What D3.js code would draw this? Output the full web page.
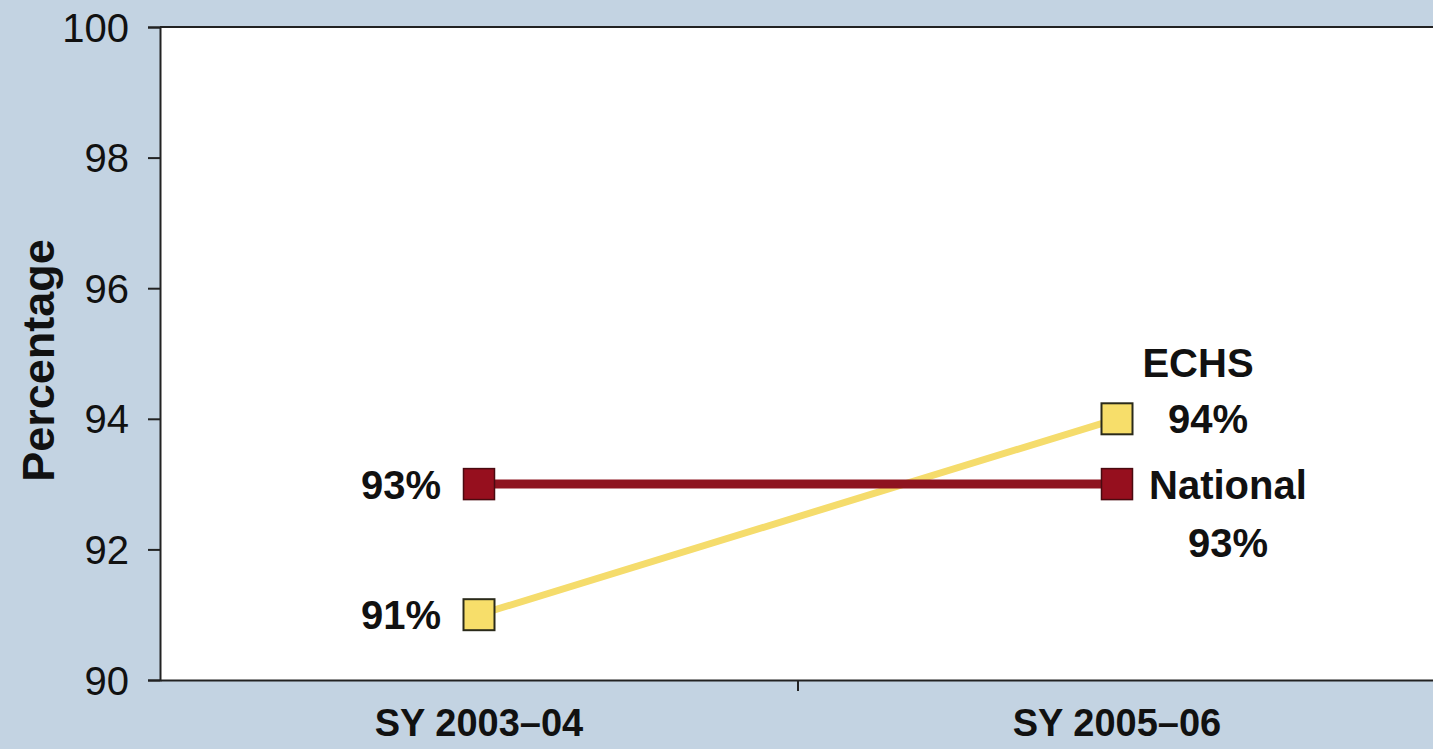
<!DOCTYPE html>
<html>
<head>
<meta charset="utf-8">
<script src="https://cdn.jsdelivr.net/npm/d3@7"></script>
<style>
  html, body { margin: 0; padding: 0; background: #c3d3e2; overflow: hidden; }
  svg { display: block; }
  text { font-family: "Liberation Sans", Arial, sans-serif; fill: #111; }
</style>
</head>
<body>
<svg id="chart" width="1433" height="749"></svg>
<script>
// Attendance rate by school year
const years = ["SY 2003\u201304", "SY 2005\u201306"];
const echsValues = [91, 94];
const nationalValues = [93, 93];
const yTicks = [90, 92, 94, 96, 98, 100];

const width = 1433, height = 749;
const margin = { top: 27, right: -3, bottom: 69, left: 160 };

const svg = d3.select("#chart");

const x = d3.scaleBand()
  .domain(years)
  .range([margin.left, width - margin.right])
  .paddingInner(0).paddingOuter(0);

const y = d3.scaleLinear()
  .domain([90, 100])
  .range([height - margin.bottom, margin.top]);

// plot area
svg.append("rect")
  .attr("x", margin.left)
  .attr("y", margin.top)
  .attr("width", width - margin.right - margin.left)
  .attr("height", y(90) - y(100))
  .attr("fill", "#ffffff");

// top border
svg.append("line")
  .attr("x1", margin.left).attr("x2", width)
  .attr("y1", y(100)).attr("y2", y(100))
  .attr("stroke", "#222").attr("stroke-width", 2);

// y axis
const yAxis = svg.append("g")
  .attr("transform", `translate(${margin.left},0)`)
  .call(d3.axisLeft(y).tickValues(yTicks).tickSize(12).tickPadding(19).tickFormat(d3.format("d")));
yAxis.select(".domain").attr("stroke", "#222").attr("stroke-width", 2);
yAxis.selectAll(".tick line").attr("stroke", "#222").attr("stroke-width", 2);
yAxis.selectAll(".tick text")
  .style("font-size", "40px")
  .style("font-family", "'Liberation Sans', Arial, sans-serif")
  .attr("fill", "#111")
  .attr("dy", "0.35em");

// x axis with tick at the boundary between the two years
const xAxis = svg.append("g")
  .attr("transform", `translate(0,${y(90)})`)
  .call(d3.axisBottom(x).tickSize(0).tickPadding(29));
xAxis.select(".domain").attr("stroke", "#222").attr("stroke-width", 2);
xAxis.selectAll(".tick text")
  .style("font-size", "38px")
  .style("font-weight", "bold")
  .style("font-family", "'Liberation Sans', Arial, sans-serif")
  .attr("fill", "#111")
  .attr("dy", "0.71em");
svg.append("line")
  .attr("x1", x(years[1])).attr("x2", x(years[1]))
  .attr("y1", y(90)).attr("y2", y(90) + 11)
  .attr("stroke", "#222").attr("stroke-width", 2);

// y axis title
svg.append("text")
  .attr("transform", `translate(54,${(y(90) + y(100)) / 2 + 7}) rotate(-90)`)
  .attr("text-anchor", "middle")
  .style("font-size", "45px")
  .style("font-weight", "bold")
  .text("Percentage");

const cx = d => x(d) + x.bandwidth() / 2;
const line = d3.line().x(d => cx(d.year)).y(d => y(d.value));

const echs = years.map((yr, i) => ({ year: yr, value: echsValues[i] }));
const national = years.map((yr, i) => ({ year: yr, value: nationalValues[i] }));

// ECHS line
svg.append("path")
  .datum(echs)
  .attr("d", line)
  .attr("fill", "none")
  .attr("stroke", "#f5dc6c")
  .attr("stroke-width", 7);

// National line
svg.append("path")
  .datum(national)
  .attr("d", line)
  .attr("fill", "none")
  .attr("stroke", "#8e1420")
  .attr("stroke-width", 9);

const sq = 31;
svg.selectAll("rect.echs")
  .data(echs).enter().append("rect")
  .attr("class", "echs")
  .attr("x", d => cx(d.year) - sq / 2)
  .attr("y", d => y(d.value) - sq / 2)
  .attr("width", sq).attr("height", sq)
  .attr("fill", "#f7de6a")
  .attr("stroke", "#2a2a1a").attr("stroke-width", 2);

svg.selectAll("rect.nat")
  .data(national).enter().append("rect")
  .attr("class", "nat")
  .attr("x", d => cx(d.year) - sq / 2)
  .attr("y", d => y(d.value) - sq / 2)
  .attr("width", sq).attr("height", sq)
  .attr("fill", "#960f1e")
  .attr("stroke", "#4a0a10").attr("stroke-width", 1.5);

const pct = v => `${v}%`;
const lab = (t, xx, yy, anchor) => svg.append("text")
  .attr("x", xx).attr("y", yy)
  .attr("text-anchor", anchor)
  .attr("dy", "0.36em")
  .style("font-size", "40px")
  .style("font-weight", "bold")
  .text(t);

// left-hand value labels
lab(pct(nationalValues[0]), cx(years[0]) - 38, y(nationalValues[0]), "end");
lab(pct(echsValues[0]), cx(years[0]) - 38, y(echsValues[0]), "end");

// right-hand series labels
lab("ECHS", cx(years[1]) + 81, y(echsValues[1]) - 56, "middle");
lab(pct(echsValues[1]), cx(years[1]) + 91, y(echsValues[1]), "middle");
lab("National", cx(years[1]) + 32, y(nationalValues[1]), "start");
lab(pct(nationalValues[1]), cx(years[1]) + 111, y(nationalValues[1]) + 58, "middle");
</script>
</body>
</html>
